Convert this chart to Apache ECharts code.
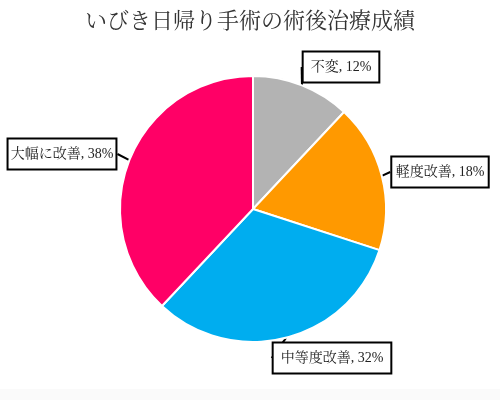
<!DOCTYPE html>
<html>
<head>
<meta charset="utf-8">
<script src="https://cdn.jsdelivr.net/npm/echarts@6/dist/echarts.min.js"></script>
<style>
html,body{margin:0;padding:0;background:#fff;}
#band{position:absolute;left:0;top:389px;width:500px;height:11px;background:#fafafa;}
#main{position:absolute;left:0;top:0;width:500px;height:400px;}
</style>
</head>
<body>
<div id="band"></div>
<div id="main"></div>
<script>
const titleText = 'いびき日帰り手術の術後治療成績';
const categories = ['不変', '軽度改善', '中等度改善', '大幅に改善'];
const values = [12, 18, 32, 38];
const colors = ['#b3b3b3', '#ff9900', '#00adef', '#ff0066'];
const labelCenters = [[341, 67], [440, 172], [332, 358], [62, 154]];

const FONT = "'Liberation Serif', 'Noto Serif CJK JP', 'Noto Sans CJK JP', serif";
const chart = echarts.init(document.getElementById('main'));
chart.setOption({
  animation: false,
  title: {
    text: titleText,
    left: 'center',
    top: 6,
    textStyle: {fontFamily: FONT, fontSize: 22, fontWeight: 'normal', color: '#333'}
  },
  series: [{
    type: 'pie',
    center: [253, 209],
    radius: 133,
    startAngle: 90,
    clockwise: true,
    data: categories.map((c, i) => ({name: c, value: values[i], itemStyle: {color: colors[i]}})),
    itemStyle: {borderColor: '#fff', borderWidth: 2},
    label: {
      show: true,
      position: 'outside',
      formatter: '{b}, {c}%',
      fontFamily: FONT,
      fontSize: 14,
      color: '#222',
      backgroundColor: '#fff',
      borderColor: '#000',
      borderWidth: 2,
      padding: [8, 7, 7, 7],
      overflow: 'none'
    },
    labelLine: {show: true, length: 8, length2: 0, lineStyle: {color: '#000', width: 2}},
    labelLayout: function (p) {
      const c = labelCenters[p.dataIndex];
      return {x: c[0], y: c[1], align: 'center', verticalAlign: 'middle'};
    }
  }]
});
</script>
</body>
</html>
